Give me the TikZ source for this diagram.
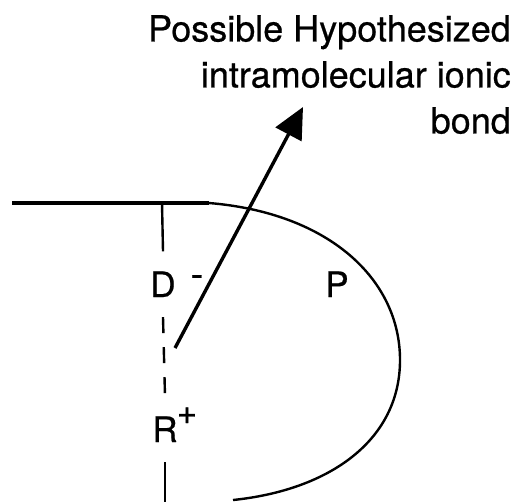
\documentclass[tikz,border=0pt]{standalone}
\usepackage{fontspec}
\setmainfont{TeX Gyre Heros}[FakeBold=0.6]
\usepackage{tikz}
\usetikzlibrary{arrows.meta}
\usetikzlibrary{positioning}

\begin{document}
\begin{tikzpicture}[x=1pt, y=-1pt,
    atom/.style={font=\fontsize{35}{42}\selectfont, inner xsep=2pt, inner ysep=20pt, anchor=base},
    charge/.style={inner sep=0pt, anchor=base},
    caption/.style={font=\fontsize{36}{46}\selectfont, align=right, inner sep=0pt},
    chain/.style={line width=3.6pt},
    bond/.style={line width=2.4pt},
    loopline/.style={line width=2.4pt},
    pointer/.style={line width=3.4pt, -{Triangle[length=31pt, width=29pt]}}]

\useasboundingbox (0,0) rectangle (526,501);

%---------------------------------------
% Caption
%---------------------------------------
\node[caption, anchor=north east] (bondtext) at (511,15)
  {Possible Hypothesized\\intramolecular ionic\\bond};

%---------------------------------------
% Backbone and loop
%---------------------------------------
\coordinate (chainL) at (12,203);
\coordinate (chainR) at (209,203);
\coordinate (vtop)   at (162,203);
\coordinate (vbot)   at (165,502);
\coordinate (loopB)  at (233,500);

\draw[chain] (chainL) -- (chainR);
\draw[loopline] (chainR) .. controls (330,213) and (400,280) .. (400,360)
                         .. controls (400,440) and (330,490) .. (loopB);

%---------------------------------------
% Residues
%---------------------------------------
\node[atom] (D) at (163,297) {D};
\node[atom] (R) at (165,442) {R};
\node[atom] (P) at (337,297) {P};
\node[charge, font=\fontsize{38}{42}\selectfont] (Dq) at (197,287) {-};
\node[charge, font=\fontsize{35}{40}\selectfont] (Rq) at (187,424) {+};

\draw[bond] (vtop) -- (D.north);
\draw[bond, dash pattern=on 16pt off 14pt] (D.south) -- (R.north);
\draw[bond] (R.south) -- (vbot);

%---------------------------------------
% Pointer to the ionic bond
%---------------------------------------
\coordinate (tail) at (175,348);
\coordinate (tip)  at (303,107);
\draw[pointer] (tail) -- (tip);

\end{tikzpicture}
\end{document}
